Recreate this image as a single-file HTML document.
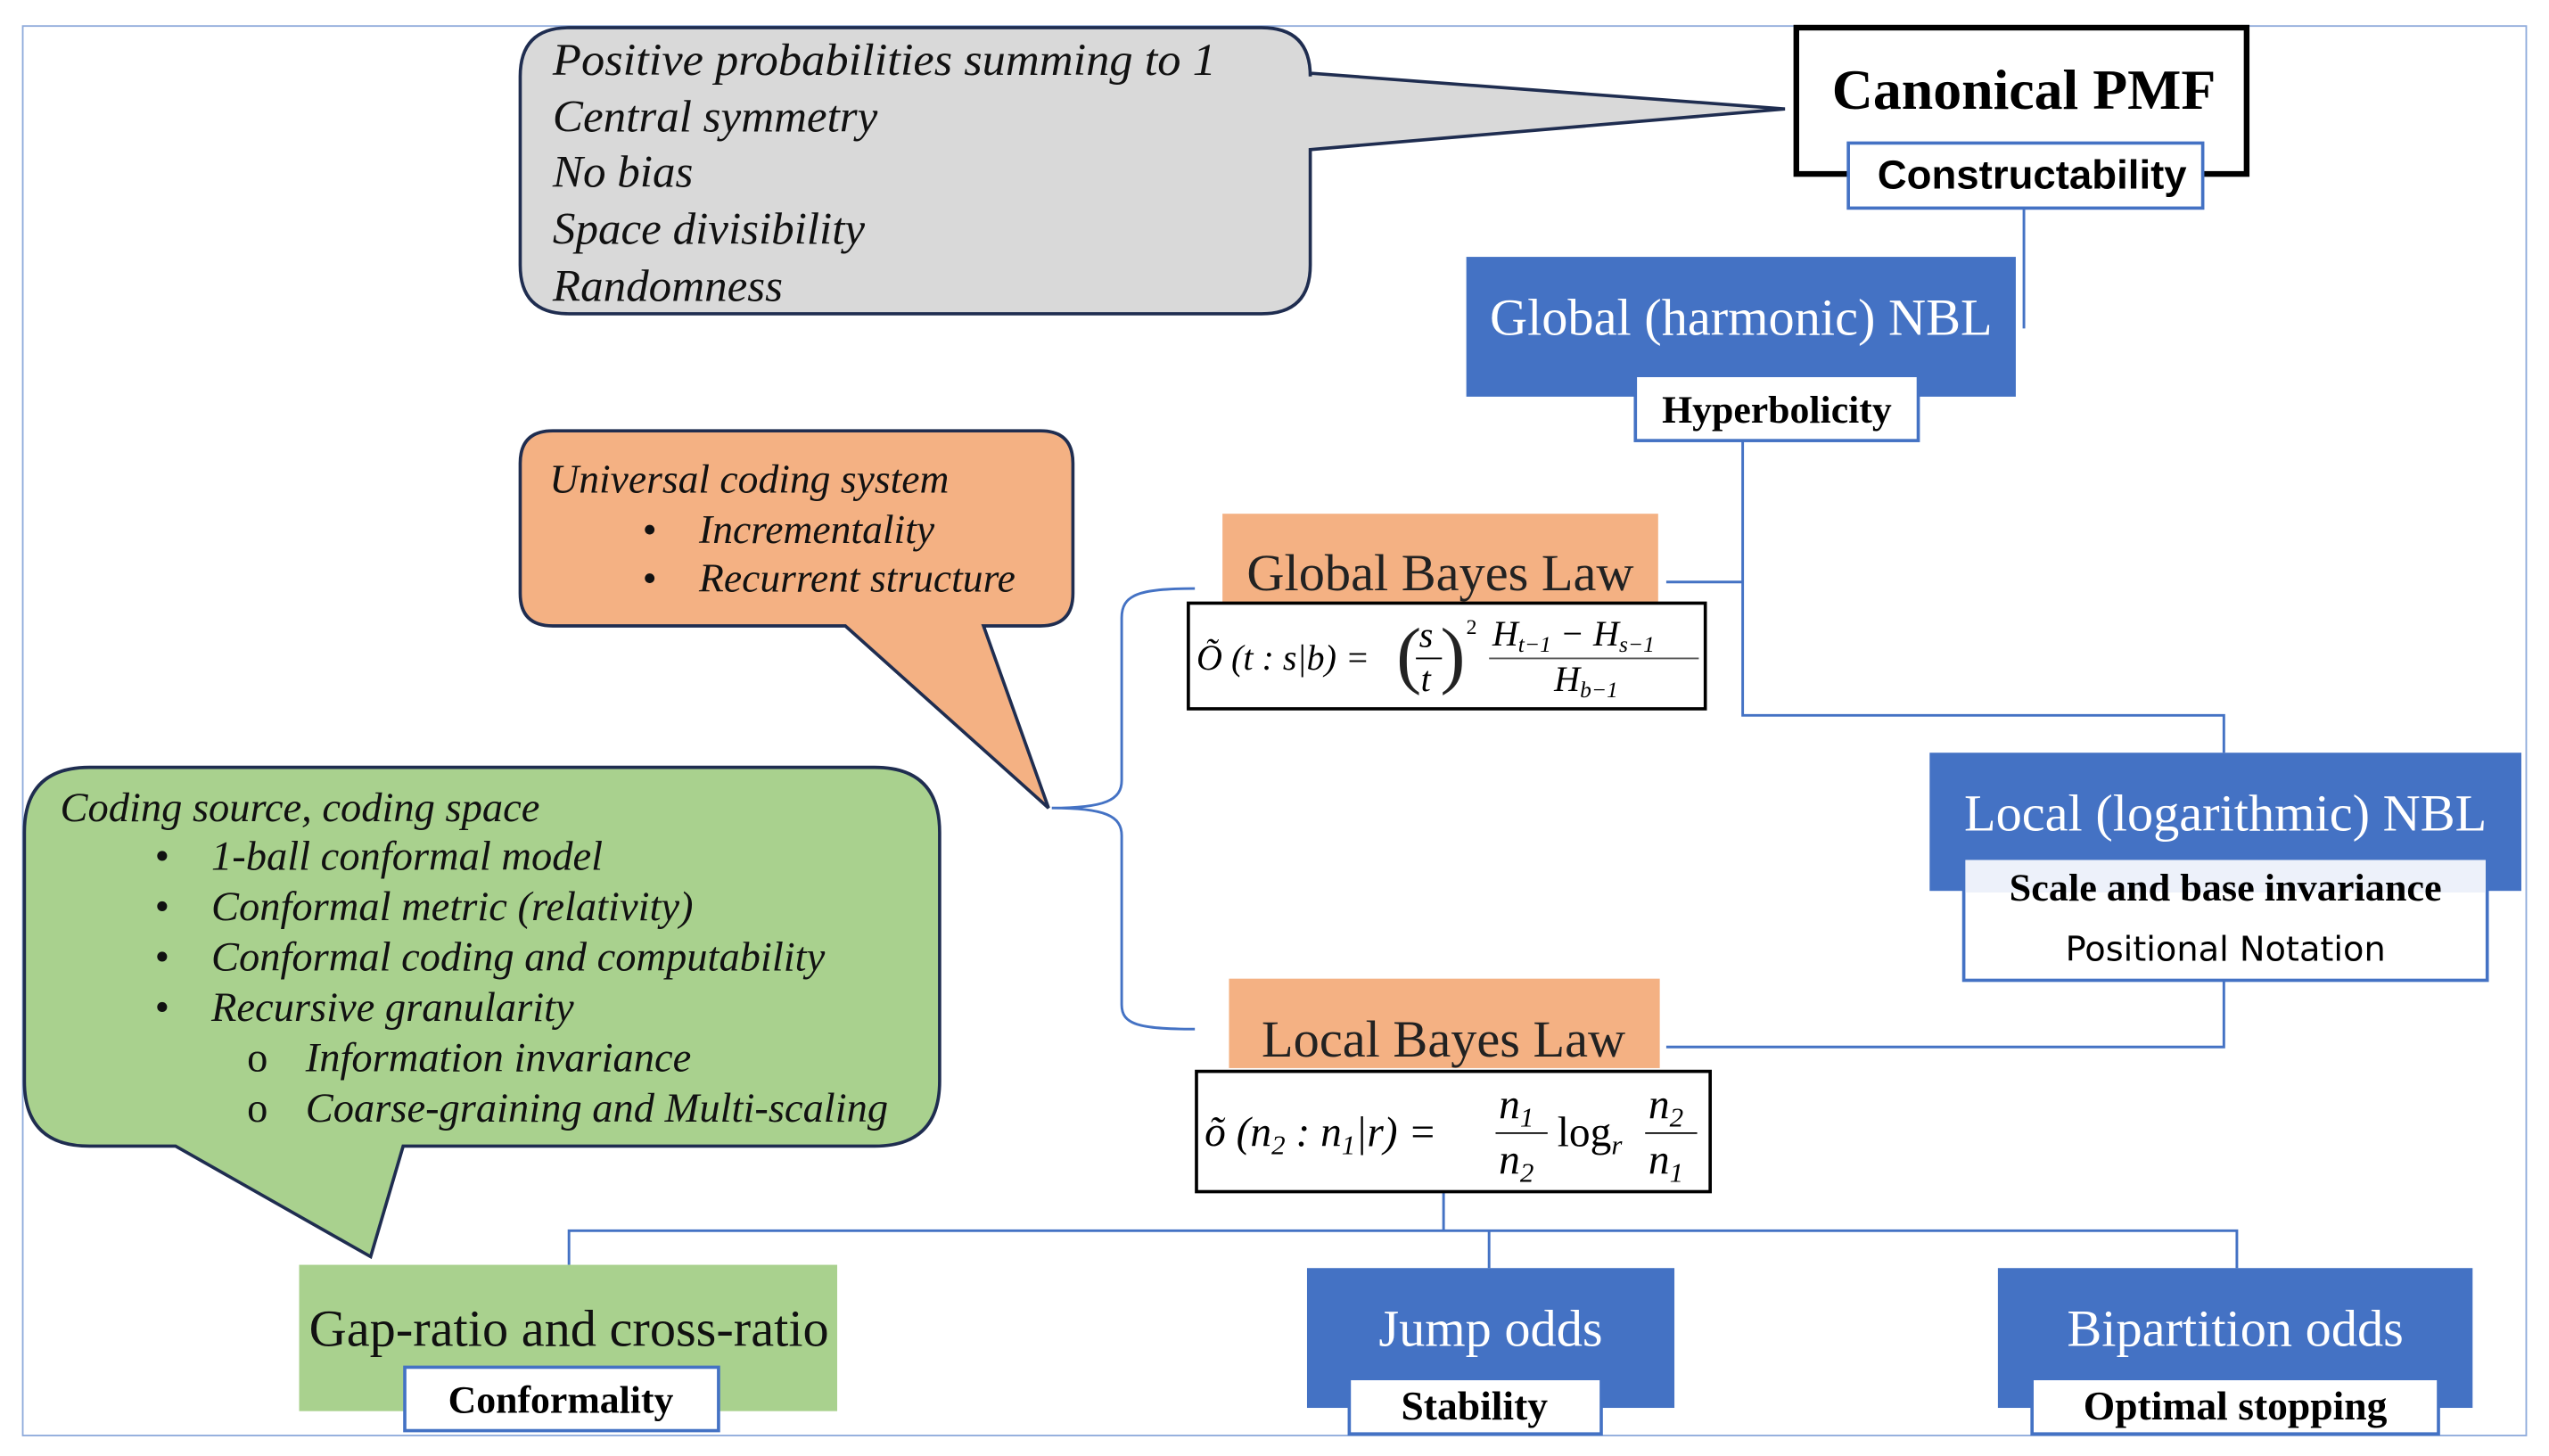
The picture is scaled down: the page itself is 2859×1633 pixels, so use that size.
<!DOCTYPE html>
<html><head><meta charset="utf-8"><style>html,body{margin:0;padding:0;background:#fff}svg{display:block}</style></head>
<body>
<svg width="2859" height="1633" viewBox="0 0 1568 895.6" preserveAspectRatio="none" xmlns="http://www.w3.org/2000/svg" font-family="Liberation Serif, serif">
<rect x="14" y="16" width="1540" height="867" fill="none" stroke="#8eaadb" stroke-width="1"/>
<g stroke="#4472c4" stroke-width="1.6" fill="none">
<path d="M1245 128V202"/>
<path d="M1072 271V440H1368V463"/>
<path d="M1025 358H1072"/>
<path d="M1368 603V644H1025"/>
<path d="M888 733V757M350 778V757H1376V780M916 757V780"/>
<path d="M735 362C700 362 690 366 690 380V480C690 492 680 497 647 497C680 497 690 502 690 514V618C690 630 700 633 735 633"/>
</g>
<path d="M350 17H776Q806 17 806 47V45L1098 67L806 92V163Q806 193 776 193H350Q320 193 320 163V47Q320 17 350 17Z" fill="#d9d9d9" stroke="#1f2d50" stroke-width="2"/>
<g font-style="italic" font-size="28" fill="#111">
<text x="340" y="46" textLength="408" lengthAdjust="spacingAndGlyphs">Positive probabilities summing to 1</text>
<text x="340" y="81">Central symmetry</text>
<text x="340" y="115">No bias</text>
<text x="340" y="150">Space divisibility</text>
<text x="340" y="185">Randomness</text>
</g>
<rect x="1105" y="17" width="277" height="90" fill="#fff" stroke="#000" stroke-width="3.5"/>
<text x="1245" y="67" text-anchor="middle" font-size="35" font-weight="bold">Canonical PMF</text>
<rect x="1137" y="88" width="218" height="40" fill="#fff" stroke="#4472c4" stroke-width="2"/>
<text x="1250" y="116" text-anchor="middle" font-size="25" font-weight="bold" font-family="Liberation Sans, sans-serif">Constructability</text>
<rect x="902" y="158" width="338" height="86" fill="#4472c4"/>
<text x="1071" y="206" text-anchor="middle" font-size="32" fill="#fff">Global (harmonic) NBL</text>
<rect x="1006" y="231" width="174" height="40" fill="#fff" stroke="#4472c4" stroke-width="2"/>
<text x="1093" y="260" text-anchor="middle" font-size="24" font-weight="bold">Hyperbolicity</text>
<rect x="752" y="316" width="268" height="56" fill="#f4b183"/>
<text x="886" y="363" text-anchor="middle" font-size="32" fill="#222">Global Bayes Law</text>
<rect x="731" y="371" width="318" height="65" fill="#fff" stroke="#000" stroke-width="2"/>
<g font-size="22" font-style="italic">
<text x="736" y="412">Õ (t : s|b) =</text>
<text x="859" y="418" font-size="46" font-style="normal" fill="#222">(</text>
<text x="873" y="398">s</text><line x1="871" y1="405" x2="887" y2="405" stroke="#000"/><text x="874" y="425">t</text>
<text x="886" y="418" font-size="46" font-style="normal" fill="#222">)</text>
<text x="902" y="390" font-size="13" font-style="normal">2</text>
<text x="918" y="397">H<tspan font-size="14" dy="4">t−1</tspan><tspan dy="-4"> − H</tspan><tspan font-size="14" dy="4">s−1</tspan></text>
<line x1="916" y1="405" x2="1045" y2="405" stroke="#555"/>
<text x="956" y="425">H<tspan font-size="14" dy="4">b−1</tspan></text>
</g>
<rect x="1187" y="463" width="364" height="85" fill="#4472c4"/>
<text x="1369" y="511" text-anchor="middle" font-size="32" fill="#fff">Local (logarithmic) NBL</text>
<rect x="1208" y="528" width="322" height="75" fill="#fff" stroke="#4472c4" stroke-width="2"/>
<rect x="1209" y="529" width="320" height="20" fill="#edf1fa"/>
<text x="1369" y="554" text-anchor="middle" font-size="24" font-weight="bold" textLength="266" lengthAdjust="spacingAndGlyphs">Scale and base invariance</text>
<text x="1369" y="591" text-anchor="middle" font-size="21" font-family="DejaVu Sans, sans-serif">Positional Notation</text>
<rect x="756" y="602" width="265" height="55" fill="#f4b183"/>
<text x="888" y="650" text-anchor="middle" font-size="32" fill="#222">Local Bayes Law</text>
<rect x="736" y="659" width="316" height="74" fill="#fff" stroke="#000" stroke-width="2"/>
<g font-size="26" font-style="italic">
<text x="741" y="705">õ (n<tspan font-size="17" dy="5">2</tspan><tspan dy="-5"> : n</tspan><tspan font-size="17" dy="5">1</tspan><tspan dy="-5">|r) =</tspan></text>
<text x="922" y="688">n<tspan font-size="17" dy="5">1</tspan></text><line x1="920" y1="697" x2="952" y2="697" stroke="#000"/><text x="922" y="722">n<tspan font-size="17" dy="5">2</tspan></text>
<text x="958" y="705" font-style="normal">log<tspan font-style="italic" font-size="17" dy="5">r</tspan></text>
<text x="1014" y="688">n<tspan font-size="17" dy="5">2</tspan></text><line x1="1012" y1="697" x2="1044" y2="697" stroke="#000"/><text x="1014" y="722">n<tspan font-size="17" dy="5">1</tspan></text>
</g>
<path d="M340 265H640Q660 265 660 285V365Q660 385 640 385H605L645 497L520 385H340Q320 385 320 365V285Q320 265 340 265Z" fill="#f4b183" stroke="#1f2d50" stroke-width="2"/>
<g font-style="italic" font-size="25" fill="#111">
<text x="338" y="303">Universal coding system</text>
<text x="395" y="334">•</text><text x="430" y="334">Incrementality</text>
<text x="395" y="364">•</text><text x="430" y="364">Recurrent structure</text>
</g>
<path d="M55 472H538Q578 472 578 512V665Q578 705 538 705H248L228 773L108 705H55Q15 705 15 665V512Q15 472 55 472Z" fill="#a9d18e" stroke="#1f2d50" stroke-width="2"/>
<g font-style="italic" font-size="25.5" fill="#111">
<text x="37" y="505">Coding source, coding space</text>
<text x="95" y="535">•</text><text x="130" y="535">1-ball conformal model</text>
<text x="95" y="566">•</text><text x="130" y="566">Conformal metric (relativity)</text>
<text x="95" y="597">•</text><text x="130" y="597">Conformal coding and computability</text>
<text x="95" y="628">•</text><text x="130" y="628">Recursive granularity</text>
<text x="152" y="659" font-style="normal">o</text><text x="188" y="659">Information invariance</text>
<text x="152" y="690" font-style="normal">o</text><text x="188" y="690">Coarse-graining and Multi-scaling</text>
</g>
<rect x="184" y="778" width="331" height="90" fill="#a9d18e"/>
<text x="350" y="828" text-anchor="middle" font-size="32" fill="#111">Gap-ratio and cross-ratio</text>
<rect x="249" y="841" width="193" height="39" fill="#fff" stroke="#4472c4" stroke-width="2"/>
<text x="345" y="869" text-anchor="middle" font-size="24" font-weight="bold">Conformality</text>
<rect x="804" y="780" width="226" height="86" fill="#4472c4"/>
<text x="917" y="828" text-anchor="middle" font-size="32" fill="#fff">Jump odds</text>
<rect x="830" y="848" width="155" height="34" fill="#fff" stroke="#4472c4" stroke-width="2"/>
<text x="907" y="873" text-anchor="middle" font-size="25" font-weight="bold">Stability</text>
<rect x="1229" y="780" width="292" height="86" fill="#4472c4"/>
<text x="1375" y="828" text-anchor="middle" font-size="32" fill="#fff">Bipartition odds</text>
<rect x="1250" y="848" width="250" height="34" fill="#fff" stroke="#4472c4" stroke-width="2"/>
<text x="1375" y="873" text-anchor="middle" font-size="25" font-weight="bold">Optimal stopping</text>
</svg>
</body></html>
